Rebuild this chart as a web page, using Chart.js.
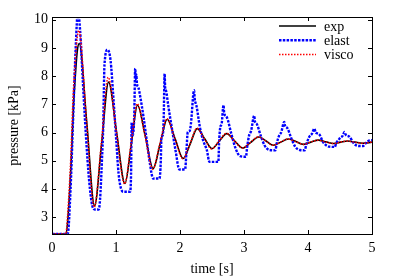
<!DOCTYPE html>
<html>
<head>
<meta charset="utf-8">
<script src="https://cdn.jsdelivr.net/npm/chart.js@4.4.1/dist/chart.umd.min.js"></script>
<style>
  html, body { margin: 0; padding: 0; background: #fff; }
  #wrap { width: 399px; height: 279px; }
</style>
</head>
<body>
<div id="wrap"><canvas id="chart" width="399" height="279"></canvas></div>
<script>
// values
const expTime = [0, 0.22, 0.25, 0.30, 0.337, 0.364, 0.395, 0.426, 0.545, 0.665, 0.775, 0.884, 1.01, 1.14, 1.24, 1.336, 1.46, 1.58, 1.69, 1.80, 1.925, 2.05, 2.16, 2.27, 2.385, 2.50, 2.615, 2.73, 2.855, 2.98, 3.1, 3.23, 3.345, 3.46, 3.575, 3.69, 3.81, 3.93, 4.045, 4.16, 4.28, 4.40, 4.51, 4.62, 4.735, 4.85, 5.0];
const expP = [2.4, 2.4, 3.0, 5.0, 7.0, 8.0, 8.9, 9.16, 6.3, 3.40, 5.6, 7.79, 6.0, 4.19, 5.6, 6.97, 5.85, 4.72, 5.6, 6.47, 5.77, 5.08, 5.6, 6.14, 5.78, 5.43, 5.7, 5.96, 5.7, 5.45, 5.64, 5.84, 5.7, 5.55, 5.66, 5.77, 5.68, 5.58, 5.66, 5.73, 5.67, 5.61, 5.66, 5.70, 5.66, 5.62, 5.66];

const viscoTime = [0, 0.215, 0.245, 0.295, 0.33, 0.36, 0.39, 0.42, 0.54, 0.66, 0.77, 0.878, 1.005, 1.135, 1.235, 1.332, 1.455, 1.575, 1.685, 1.795, 1.92, 2.045, 2.155, 2.265, 2.38, 2.495, 2.61, 2.725, 2.85, 2.975, 3.095, 3.225, 3.34, 3.455, 3.57, 3.685, 3.805, 3.925, 4.04, 4.155, 4.275, 4.395, 4.505, 4.615, 4.73, 4.845, 5.0];
const viscoP = [2.4, 2.4, 3.1, 5.2, 7.3, 8.4, 9.3, 9.62, 6.4, 3.35, 5.6, 7.96, 6.05, 4.18, 5.6, 7.02, 5.87, 4.70, 5.6, 6.49, 5.78, 5.07, 5.6, 6.15, 5.78, 5.42, 5.7, 5.97, 5.7, 5.45, 5.64, 5.85, 5.7, 5.55, 5.66, 5.77, 5.68, 5.58, 5.66, 5.73, 5.67, 5.61, 5.66, 5.70, 5.66, 5.62, 5.66];

const elastTime = [0, 0.245, 0.29, 0.33, 0.37, 0.405, 0.44, 0.48, 0.53, 0.58, 0.63, 0.67, 0.73, 0.75, 0.78, 0.80, 0.82, 0.868, 0.915, 0.958, 1.004, 1.04, 1.08, 1.118, 1.22, 1.235, 1.245, 1.26, 1.285, 1.30, 1.31, 1.318, 1.327, 1.35, 1.38, 1.43, 1.48, 1.53, 1.58, 1.68, 1.70, 1.71, 1.73, 1.745, 1.76, 1.768, 1.78, 1.82, 1.87, 1.93, 1.99, 2.08, 2.10, 2.12, 2.15, 2.17, 2.22, 2.23, 2.26, 2.31, 2.36, 2.42, 2.46, 2.60, 2.61, 2.63, 2.65, 2.68, 2.69, 2.73, 2.8, 2.86, 2.94, 3.03, 3.05, 3.08, 3.11, 3.16, 3.17, 3.2, 3.26, 3.32, 3.40, 3.49, 3.51, 3.55, 3.58, 3.63, 3.64, 3.68, 3.73, 3.80, 3.87, 3.95, 3.97, 4.02, 4.06, 4.10, 4.12, 4.17, 4.24, 4.33, 4.42, 4.44, 4.50, 4.54, 4.57, 4.59, 4.65, 4.72, 4.80, 4.86, 4.90, 4.96, 5.0];
const elastP = [2.4, 2.4, 4.0, 6.5, 9.0, 10.3, 9.6, 7.9, 5.9, 4.3, 3.4, 3.27, 3.27, 3.6, 5.0, 6.2, 8.4, 8.94, 8.56, 7.27, 5.73, 4.55, 4.0, 3.9, 3.9, 4.5, 6.35, 5.9, 6.6, 8.27, 7.9, 8.05, 7.74, 7.6, 7.26, 6.55, 5.73, 4.9, 4.37, 4.37, 5.0, 5.84, 5.9, 6.5, 8.09, 7.6, 7.5, 6.9, 6.2, 5.37, 4.69, 4.69, 5.3, 6.0, 6.05, 6.3, 7.5, 7.2, 6.92, 6.2, 5.73, 5.37, 4.96, 4.96, 5.6, 6.2, 6.3, 6.97, 6.7, 6.55, 5.97, 5.49, 5.16, 5.14, 5.5, 5.9, 6.05, 6.6, 6.4, 6.3, 5.9, 5.55, 5.38, 5.37, 5.6, 5.9, 6.0, 6.38, 6.25, 6.15, 5.85, 5.5, 5.38, 5.37, 5.55, 5.85, 5.95, 6.14, 6.0, 5.95, 5.65, 5.5, 5.49, 5.62, 5.8, 5.88, 6.02, 5.92, 5.85, 5.6, 5.52, 5.52, 5.62, 5.72, 5.73];

const xTicks = [0, 1, 2, 3, 4, 5];
const yTicks = [3, 4, 5, 6, 7, 8, 9, 10];

const serif = "'Liberation Serif', 'DejaVu Serif', serif";
const fontSize = 14;

function toPoints(xs, ys) {
  return xs.map((x, i) => ({ x: x, y: ys[i] }));
}

// frame with inward ticks on all four sides
const framePlugin = {
  id: "frame",
  afterDraw(chart) {
    const ctx = chart.ctx;
    const a = chart.chartArea;
    const xs = chart.scales.x;
    const ys = chart.scales.y;
    const len = 4;
    ctx.save();
    ctx.strokeStyle = "#000";
    ctx.lineWidth = 1;
    ctx.beginPath();
    xTicks.forEach((v) => {
      const px = Math.round(xs.getPixelForValue(v)) + 0.5;
      ctx.moveTo(px, a.bottom);
      ctx.lineTo(px, a.bottom - len);
      ctx.moveTo(px, a.top);
      ctx.lineTo(px, a.top + len);
    });
    yTicks.forEach((v) => {
      const py = Math.round(ys.getPixelForValue(v)) + 0.5;
      ctx.moveTo(a.left, py);
      ctx.lineTo(a.left + len, py);
      ctx.moveTo(a.right, py);
      ctx.lineTo(a.right - len, py);
    });
    ctx.stroke();
    ctx.strokeRect(Math.round(a.left) + 0.5, Math.round(a.top) + 0.5, Math.round(a.right - a.left), Math.round(a.bottom - a.top));
    ctx.restore();
  },
};

// gnuplot style key in the top right corner
const keyPlugin = {
  id: "key",
  afterDraw(chart) {
    const ctx = chart.ctx;
    ctx.save();
    ctx.font = fontSize + "px " + serif;
    ctx.textBaseline = "middle";
    ctx.textAlign = "left";
    chart.data.datasets.forEach((ds, i) => {
      const y = 26 + i * 14.2;
      ctx.strokeStyle = ds.borderColor;
      ctx.lineWidth = ds.borderWidth;
      ctx.setLineDash(ds.borderDash || []);
      ctx.beginPath();
      ctx.moveTo(279, y);
      ctx.lineTo(316, y);
      ctx.stroke();
      ctx.setLineDash([]);
      ctx.fillStyle = "#000";
      ctx.fillText(ds.label, 324, y + 1);
    });
    ctx.restore();
  },
};

const bgPlugin = {
  id: "bg",
  beforeDraw(chart) {
    const ctx = chart.ctx;
    ctx.save();
    ctx.fillStyle = "#fff";
    ctx.fillRect(0, 0, chart.width, chart.height);
    ctx.restore();
  },
};

new Chart(document.getElementById("chart"), {
  type: "line",
  data: {
    datasets: [
      {
        label: "exp",
        data: toPoints(expTime, expP),
        borderColor: "#000000",
        borderWidth: 1.6,
        cubicInterpolationMode: "monotone",
        pointRadius: 0,
        order: 2,
      },
      {
        label: "elast",
        data: toPoints(elastTime, elastP),
        borderColor: "#0000ff",
        borderWidth: 2.4,
        borderDash: [2.5, 1.3],
        cubicInterpolationMode: "monotone",
        pointRadius: 0,
        order: 1,
      },
      {
        label: "visco",
        data: toPoints(viscoTime, viscoP),
        borderColor: "#ff0000",
        borderWidth: 1.5,
        borderDash: [1.5, 1.5],
        cubicInterpolationMode: "monotone",
        pointRadius: 0,
        order: 0,
      },
    ],
  },
  options: {
    responsive: false,
    animation: false,
    events: [],
    layout: { padding: { top: 17, right: 27, left: 0, bottom: 0 } },
    plugins: {
      legend: { display: false },
      tooltip: { enabled: false },
    },
    scales: {
      x: {
        type: "linear",
        min: 0,
        max: 5,
        grid: { display: false, drawTicks: false },
        border: { display: false },
        afterBuildTicks: (axis) => {
          axis.ticks = xTicks.map((v) => ({ value: v }));
        },
        afterFit: (axis) => {
          axis.height = 45;
        },
        ticks: {
          padding: 6,
          maxRotation: 0,
          color: "#000",
          font: { family: serif, size: fontSize },
          callback: (v) => String(v),
        },
        title: {
          display: true,
          text: "time [s]",
          color: "#000",
          font: { family: serif, size: fontSize },
          padding: { top: 0, bottom: 1 },
        },
      },
      y: {
        type: "linear",
        min: 2.4,
        max: 10.1,
        grid: { display: false, drawTicks: false },
        border: { display: false },
        afterBuildTicks: (axis) => {
          axis.ticks = yTicks.map((v) => ({ value: v }));
        },
        afterFit: (axis) => {
          axis.width = 52;
        },
        ticks: {
          padding: 4,
          color: "#000",
          font: { family: serif, size: fontSize },
          callback: (v) => String(v),
        },
        title: {
          display: true,
          text: "pressure [kPa]",
          color: "#000",
          font: { family: serif, size: fontSize },
          padding: { top: 6, bottom: 0 },
        },
      },
    },
  },
  plugins: [bgPlugin, framePlugin, keyPlugin],
});
</script>
</body>
</html>
